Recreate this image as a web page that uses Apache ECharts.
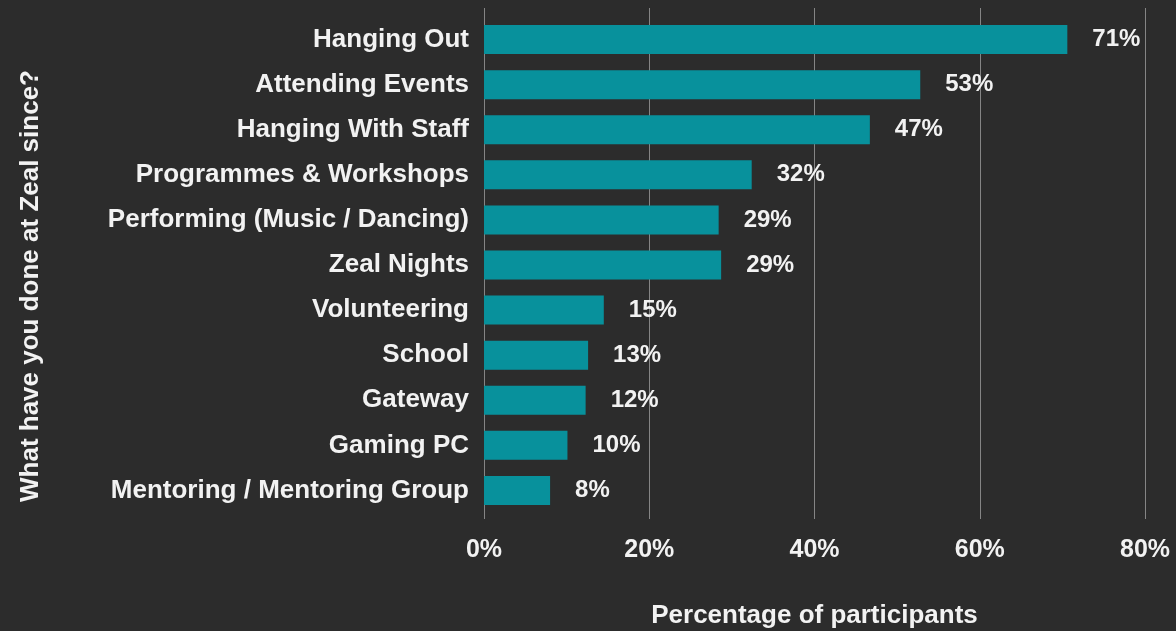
<!DOCTYPE html>
<html>
<head>
<meta charset="utf-8">
<script src="https://cdn.jsdelivr.net/npm/echarts@6/dist/echarts.min.js"></script>
<style>
html,body{margin:0;padding:0;background:#2c2c2c;}
#chart{width:1176px;height:631px;}
</style>
</head>
<body>
<div id="chart"></div>
<script>
const categories = [
  "Hanging Out",
  "Attending Events",
  "Hanging With Staff",
  "Programmes & Workshops",
  "Performing (Music / Dancing)",
  "Zeal Nights",
  "Volunteering",
  "School",
  "Gateway",
  "Gaming PC",
  "Mentoring / Mentoring Group"
];
const values = [70.6, 52.8, 46.7, 32.4, 28.4, 28.7, 14.5, 12.6, 12.3, 10.1, 8.0];
const valueLabels = ["71%", "53%", "47%", "32%", "29%", "29%", "15%", "13%", "12%", "10%", "8%"];
const xTicks = [0, 20, 40, 60, 80];

const FONT = "'Liberation Sans', Arial, sans-serif";
const TXT = "#f2f2f2";

const chart = echarts.init(document.getElementById('chart'), null, {renderer: 'canvas'});
chart.setOption({
  backgroundColor: '#2c2c2c',
  animation: false,
  grid: [
    {left: 484, right: 31, top: 8, height: 511, outerBoundsMode: 'none', containLabel: false},
    {left: 484, right: 31, top: 17, height: 496, outerBoundsMode: 'none', containLabel: false},
    {left: 484, right: 31, top: 72, height: 428, outerBoundsMode: 'none', containLabel: false}
  ],
  xAxis: [
    {
      gridIndex: 0, type: 'value', min: xTicks[0], max: xTicks[xTicks.length - 1], interval: 20,
      axisLine: {show: false}, axisTick: {show: false},
      splitLine: {show: true, lineStyle: {color: '#858585', width: 1}},
      axisLabel: {formatter: '{value}%', color: TXT, fontFamily: FONT, fontWeight: 'bold', fontSize: 25, margin: 19},
      name: 'Percentage of participants', nameLocation: 'middle', nameGap: 84,
      nameTextStyle: {color: TXT, fontFamily: FONT, fontWeight: 'bold', fontSize: 26}
    },
    {
      gridIndex: 1, type: 'value', min: 0, max: 80, interval: 20,
      show: false, splitLine: {show: false}
    },
    {
      gridIndex: 2, type: 'value', min: 0, max: 80, show: false
    }
  ],
  yAxis: [
    {gridIndex: 0, type: 'value', show: false, splitLine: {show: false}},
    {
      gridIndex: 1, type: 'category', data: categories, inverse: true,
      axisLine: {show: false}, axisTick: {show: false},
      axisLabel: {color: TXT, fontFamily: FONT, fontWeight: 'bold', fontSize: 26, margin: 15}
    },
    {
      gridIndex: 2, type: 'value',
      axisLine: {show: false}, axisTick: {show: false}, axisLabel: {show: false}, splitLine: {show: false},
      name: 'What have you done at Zeal since?', nameLocation: 'middle', nameRotate: 90, nameGap: 440,
      nameTextStyle: {color: TXT, fontFamily: FONT, fontWeight: 'bold', fontSize: 26}
    }
  ],
  series: [{
    type: 'bar',
    xAxisIndex: 1, yAxisIndex: 1,
    data: values,
    barWidth: 29,
    itemStyle: {color: '#08919c'},
    label: {
      show: true, position: 'right', distance: 25,
      formatter: p => valueLabels[p.dataIndex],
      color: TXT, fontFamily: FONT, fontWeight: 'bold', fontSize: 24
    }
  }]
});
</script>
</body>
</html>
